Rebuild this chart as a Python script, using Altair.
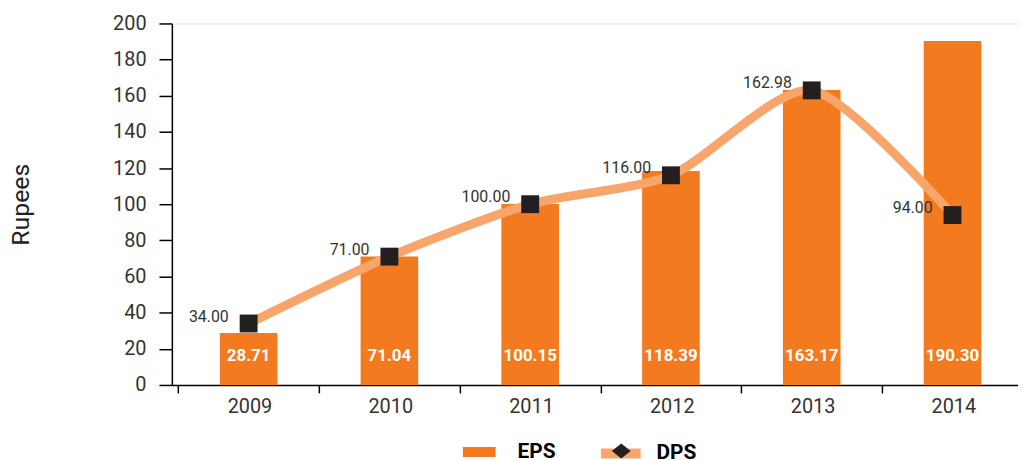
import altair as alt
import pandas as pd

years = ["2009", "2010", "2011", "2012", "2013", "2014"]
eps = [28.71, 71.04, 100.15, 118.39, 163.17, 190.30]
dps = [34.00, 71.00, 100.00, 116.00, 162.98, 94.00]

ORANGE = "#F47A20"
LIGHT = "#F8A56B"
DARK = "#231F20"
FONT = "Roboto"

year_num = [int(y) for y in years]
# band boundaries between the year categories (for the interval ticks)
boundaries = [y - 0.5 for y in year_num]

df = pd.DataFrame({
    "year": year_num,
    "eps": eps,
    "dps": dps,
    "eps_label": [f"{v:.2f}" for v in eps],
    "dps_label": [f"{v:.2f}" for v in dps],
    "eps_series": ["EPS"] * len(years),
    "dps_series": ["DPS"] * len(years),
    "dps_marker": ["DPS marker"] * len(years),
})

WIDTH = 852
x_lo, x_hi = year_num[0] - 0.51, year_num[-1] + 0.43
step_px = WIDTH / (x_hi - x_lo)

x_scale = alt.Scale(domain=[x_lo, x_hi], nice=False, zero=False)
x_axis = alt.Axis(
    values=boundaries,
    labelExpr="'' + (datum.value + 0.5)",
    labelOffset=step_px / 2,
    tickSize=8,
    tickWidth=1.5,
    tickColor="black",
    domainColor="black",
    domainWidth=1.5,
    labelFontSize=20,
    labelColor="#333333",
    labelPadding=4,
    labelFont=FONT,
    labelAngle=0,
    labelFlush=False,
    labelOverlap=False,
    grid=False,
    title=None,
)

y_scale = alt.Scale(domain=[0, 200])
y_axis = alt.Axis(
    values=list(range(0, 201, 20)),
    labelOverlap=False,
    grid=False,
    tickSize=13,
    tickWidth=1.5,
    tickColor="black",
    domainColor="black",
    domainWidth=1.5,
    labelFontSize=20,
    labelColor="#333333",
    labelPadding=13,
    labelFont=FONT,
    title="Rupees",
    titleFont=FONT,
    titleFontSize=25,
    titleFontWeight="normal",
    titleColor="#222222",
    titlePadding=80,
)


def xe():
    return alt.X("year:Q", scale=x_scale, axis=x_axis, title=None)


def ye(field):
    return alt.Y(field, scale=y_scale, axis=y_axis, title="Rupees")


common_legend = dict(
    title=None,
    orient="none",
    direction="horizontal",
    labelFont=FONT,
    labelFontSize=21,
    labelFontWeight="bold",
    labelColor="black",
)

base = alt.Chart(df)

bars = base.mark_bar(width=58).encode(
    x=xe(),
    y=ye("eps:Q"),
    color=alt.Color(
        "eps_series:N",
        scale=alt.Scale(domain=["EPS"], range=[ORANGE]),
        legend=alt.Legend(
            legendX=293, legendY=415,
            symbolType="M-1,-0.3H1V0.3H-1Z",
            symbolSize=1089,
            symbolStrokeWidth=0,
            labelOffset=22,
            **common_legend,
        ),
    ),
)

bar_text = base.mark_text(
    color="white", fontWeight="bold", fontSize=17, font=FONT,
    baseline="middle", dy=-29,
).encode(
    x=xe(),
    y=alt.YDatum(0, scale=y_scale, axis=y_axis, title="Rupees"),
    text="eps_label:N",
)

line = base.mark_line(
    interpolate="cardinal", tension=0.25, strokeWidth=9, strokeCap="round"
).encode(
    x=xe(),
    y=ye("dps:Q"),
    stroke=alt.Stroke(
        "dps_series:N",
        scale=alt.Scale(domain=["DPS"], range=[LIGHT]),
        legend=alt.Legend(
            legendX=427, legendY=408,
            symbolType="stroke",
            symbolSize=1600,
            symbolStrokeWidth=10,
            labelOffset=11,
            **common_legend,
        ),
    ),
)

points = base.mark_square(color=DARK, opacity=1).encode(
    x=xe(),
    y=ye("dps:Q"),
    size=alt.Size(
        "dps_marker:N",
        scale=alt.Scale(type="ordinal", domain=["DPS marker"], range=[324]),
        legend=alt.Legend(
            legendX=442, legendY=420,
            symbolType="M0,-0.85L1.05,0L0,0.85L-1.05,0Z",
            symbolFillColor=DARK,
            symbolStrokeWidth=0,
            labelExpr="''",
            zindex=2,
            **common_legend,
        ),
    ),
)

dps_text = base.mark_text(
    align="right", baseline="middle", dx=-20, dy=-7,
    fontSize=16, font=FONT, color="#333333",
).encode(
    x=xe(),
    y=ye("dps:Q"),
    text="dps_label:N",
)

chart = alt.layer(bars, bar_text, line, points, dps_text).properties(
    width=WIDTH,
    height=364,
    autosize=alt.AutoSizeParams(type="none"),
    padding={"left": 165, "top": 14, "right": 0, "bottom": 74},
).configure_view(stroke=None, strokeWidth=0).configure_axis(grid=False).configure(font=FONT)

chart.save("out.html", embed_options={"renderer": "svg", "actions": False})
